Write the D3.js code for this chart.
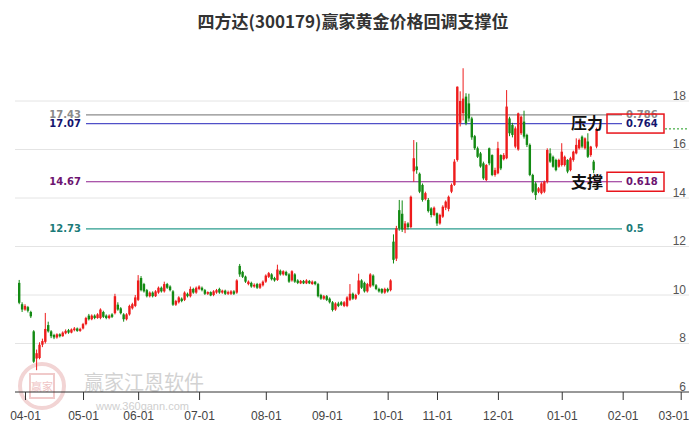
<!DOCTYPE html>
<html><head><meta charset="utf-8">
<script src="https://cdn.jsdelivr.net/npm/d3@7/dist/d3.min.js"></script>
<style>body{margin:0;background:#fff}svg{display:block}</style>
</head><body>
<svg id="chart" width="689" height="427"></svg>
<script>
// [open, high, low, close] per trading day
const candles = [
[10.50,10.62,9.62,9.68],[9.62,9.70,9.30,9.40],[9.40,9.62,9.35,9.55],[9.50,9.55,9.28,9.35],[9.30,9.35,9.05,9.12],
[8.50,8.55,7.20,7.25],[7.38,7.75,6.90,7.60],[7.40,8.05,7.35,7.95],[7.95,8.20,7.85,8.10],[8.07,9.26,8.00,8.60],
[8.76,8.90,8.45,8.50],[8.50,8.55,8.22,8.30],[8.35,8.40,8.18,8.25],[8.25,8.42,8.20,8.38],[8.38,8.42,8.25,8.30],
[8.30,8.50,8.28,8.45],[8.42,8.58,8.38,8.52],[8.55,8.60,8.40,8.45],[8.45,8.62,8.42,8.58],[8.55,8.68,8.50,8.62],
[8.62,8.66,8.48,8.52],[8.52,8.65,8.48,8.60],[8.62,8.85,8.58,8.80],[8.80,9.10,8.75,9.05],[9.15,9.22,8.95,9.00],
[9.00,9.20,8.96,9.15],[9.15,9.20,9.00,9.05],[9.05,9.25,9.02,9.20],[9.05,9.45,9.00,9.40],[9.30,9.35,9.05,9.10],
[9.15,9.20,9.00,9.05],[9.05,9.20,9.00,9.15],[9.20,9.25,9.05,9.10],[9.25,10.05,9.20,9.95],[9.60,9.70,9.35,9.40],
[9.45,9.50,9.20,9.25],[9.20,9.25,8.90,9.00],[9.00,9.25,8.95,9.20],[9.20,9.60,9.15,9.55],[9.45,9.68,9.40,9.62],
[9.55,10.00,9.50,9.90],[9.80,10.82,9.75,10.60],[10.70,10.78,10.15,10.20],[10.45,10.50,10.10,10.15],[10.20,10.25,9.90,9.95],
[9.95,10.15,9.90,10.10],[10.10,10.15,9.90,9.95],[9.95,10.20,9.92,10.15],[10.10,10.35,10.05,10.30],[10.30,10.35,10.10,10.15],
[10.15,10.55,10.10,10.45],[10.45,10.50,10.25,10.30],[10.35,10.40,10.15,10.20],[10.15,10.20,9.55,9.60],[9.60,9.80,9.55,9.75],
[9.70,9.95,9.65,9.90],[9.85,9.90,9.70,9.75],[9.80,10.15,9.75,10.10],[10.05,10.10,9.90,9.95],[9.95,10.35,9.90,10.25],
[10.25,10.30,10.05,10.10],[10.10,10.35,10.05,10.30],[10.25,10.40,10.20,10.35],[10.30,10.35,10.15,10.20],[10.20,10.25,10.00,10.05],
[10.05,10.15,10.00,10.12],[10.12,10.15,9.95,9.98],[10.00,10.20,9.95,10.15],[10.10,10.25,10.05,10.20],[10.25,10.30,10.05,10.10],
[10.10,10.22,10.05,10.18],[10.18,10.22,10.00,10.05],[10.05,10.18,10.00,10.12],[10.05,10.20,10.00,10.15],[10.15,10.20,10.00,10.05],
[10.10,10.65,10.05,10.60],[11.20,11.28,10.75,10.85],[10.95,11.00,10.70,10.75],[10.76,10.80,10.50,10.55],[10.45,10.60,10.40,10.55],
[10.50,10.55,10.30,10.35],[10.35,10.48,10.30,10.42],[10.45,10.50,10.25,10.30],[10.30,10.50,10.25,10.45],[10.40,10.60,10.35,10.55],
[10.55,10.85,10.50,10.80],[10.75,10.95,10.70,10.90],[10.85,10.90,10.60,10.65],[10.70,10.75,10.55,10.60],[10.62,11.25,10.58,11.05],
[11.00,11.05,10.80,10.85],[10.85,11.02,10.80,10.98],[10.95,11.00,10.78,10.82],[10.85,10.90,10.50,10.55],[10.60,11.02,10.55,10.98],
[10.85,10.90,10.50,10.55],[10.60,10.65,10.45,10.50],[10.48,10.62,10.45,10.58],[10.58,10.62,10.45,10.48],[10.48,10.65,10.45,10.60],
[10.58,10.62,10.45,10.48],[10.45,10.60,10.42,10.55],[10.55,10.58,10.40,10.45],[10.45,10.50,9.90,9.95],[10.00,10.05,9.80,9.85],
[9.85,10.00,9.80,9.95],[9.95,10.00,9.75,9.80],[9.85,9.90,9.65,9.70],[9.70,9.75,9.32,9.38],[9.40,9.70,9.35,9.65],
[9.65,9.72,9.50,9.55],[9.70,9.75,9.55,9.60],[9.55,9.75,9.50,9.70],[9.55,9.95,9.50,9.90],[9.80,10.45,9.75,10.05],
[10.05,10.10,9.80,9.85],[9.85,10.05,9.80,10.00],[10.05,10.88,10.00,10.60],[10.60,10.65,10.25,10.30],[10.50,10.55,10.10,10.15],
[10.15,10.50,10.10,10.45],[10.35,10.90,10.30,10.85],[10.80,10.85,10.35,10.40],[10.40,10.45,10.20,10.25],[10.25,10.30,10.10,10.15],
[10.25,10.28,10.05,10.10],[10.10,10.30,10.05,10.25],[10.25,10.30,10.10,10.15],[10.20,10.65,10.15,10.60],[12.20,12.50,11.30,11.45],
[11.50,12.85,11.40,12.75],[13.50,13.92,12.65,12.75],[13.35,13.90,12.60,12.70],[12.70,13.05,12.55,12.95],[12.95,13.00,12.70,12.80],
[12.80,14.10,12.75,14.05],[15.10,16.39,14.67,15.64],[15.30,16.30,15.00,15.15],[15.00,15.05,14.20,14.26],[14.54,14.60,13.85,13.92],
[13.95,14.26,13.90,14.20],[13.92,14.00,13.40,13.46],[13.57,13.62,13.20,13.30],[13.30,13.65,13.25,13.60],[13.37,13.40,12.85,12.95],
[12.95,13.35,12.90,13.30],[13.23,13.70,13.18,13.64],[13.60,13.90,13.50,13.85],[13.55,14.10,13.45,14.05],[14.26,14.60,14.20,14.54],
[14.54,15.60,14.50,15.50],[15.57,18.60,15.50,18.59],[17.10,18.40,16.95,18.00],[17.50,19.35,17.20,18.10],[18.18,18.32,17.00,17.08],
[17.90,18.30,17.15,17.28],[17.28,17.35,16.40,16.50],[16.55,16.60,15.98,16.05],[16.05,16.12,15.65,15.70],[15.84,15.90,15.25,15.30],
[15.43,15.50,14.75,14.81],[14.74,15.40,14.70,15.36],[16.05,16.08,15.35,15.43],[15.77,15.80,14.90,14.95],[14.95,15.25,14.88,15.15],
[15.02,16.32,14.98,16.05],[15.77,15.80,15.15,15.22],[15.60,15.85,15.55,15.77],[15.64,18.45,15.60,17.77],[17.28,17.35,16.55,16.67],
[17.01,17.10,16.50,16.60],[16.12,16.95,16.05,16.87],[16.00,17.52,15.95,17.49],[16.67,17.40,16.60,17.35],[17.15,17.60,16.45,16.53],
[16.60,16.65,16.10,16.19],[16.19,16.25,14.90,14.95],[14.95,15.00,14.20,14.26],[14.60,14.67,13.92,14.12],[14.26,14.45,14.20,14.40],
[14.20,14.65,14.15,14.60],[14.26,14.72,14.20,14.67],[14.67,16.05,14.60,15.98],[15.84,16.05,15.45,15.50],[15.70,15.75,15.25,15.29],
[15.57,15.62,15.10,15.15],[15.29,15.62,15.25,15.57],[15.36,16.26,15.30,15.91],[15.36,15.75,15.30,15.70],[15.57,15.60,15.02,15.09],
[15.15,15.70,15.10,15.64],[15.57,15.95,15.50,15.91],[15.84,16.46,15.80,16.19],[16.05,16.45,16.00,16.39],[16.53,16.58,16.05,16.12],
[16.05,16.50,16.00,16.46],[16.33,16.67,15.65,15.70],[15.77,16.15,15.70,16.12],[15.50,15.57,15.02,15.15],[16.12,16.90,16.05,16.85]
];
const tickIdx = [2,22,41,62,85,106,127,144,165,187,208,228];
const tickLabels = ["04-01","05-01","06-01","07-01","08-01","09-01","10-01","11-01","12-01","01-01","02-01","03-01"];
const yTicks = [6,8,10,12,14,16,18];
const levelValues = [17.43,17.07,14.67,12.73];
const levelRatios = ["0.786","0.764","0.618","0.5"];
const levelLineColors = ["#8c8c8c","#5050c8","#8e1f8e","#2b9c8e"];
const levelTextColors = ["#8a8a8a","#14146e","#6c1470","#1b7b78"];
const boxedLevels = [1,2];
const boxTexts = ["压力","支撑"];
const title = "四方达(300179)赢家黄金价格回调支撑位";

const svg = d3.select("#chart");
const x = d3.scaleLinear().domain([0,228]).range([19.2,680.7]);
const y = d3.scaleLinear().domain([6,18]).range([392,101]);

// watermark
const wm = svg.append("g");
wm.append("circle").attr("cx",42).attr("cy",386).attr("r",22).attr("fill","none").attr("stroke","#f2d4d4").attr("stroke-width",4);
wm.append("rect").attr("x",30).attr("y",374).attr("width",24).attr("height",24).attr("fill","none").attr("stroke","#f0caca").attr("stroke-width",2);
wm.append("text").attr("x",42).attr("y",391).attr("text-anchor","middle").attr("font-size",11).attr("fill","#efc4c4")
  .attr("font-family","Noto Sans CJK SC").text("赢家");
wm.append("text").attr("x",84).attr("y",390).attr("font-size",20).attr("fill","#d2d2d2")
  .attr("font-family","Noto Sans CJK SC").text("赢家江恩软件");
wm.append("text").attr("x",96).attr("y",410).attr("font-size",11).attr("fill","#cfcfcf")
  .attr("font-family","Liberation Sans, Arial, sans-serif").text("www.360gann.com");

// title
svg.append("text").attr("x",353).attr("y",28).attr("text-anchor","middle")
  .attr("font-family","Noto Sans CJK SC").attr("font-weight","bold").attr("font-size",17).attr("fill","#333")
  .text(title);

// grid lines
svg.append("g").selectAll("line").data(yTicks.filter(v=>v>6)).join("line")
  .attr("x1",15).attr("x2",689).attr("y1",d=>y(d)).attr("y2",d=>y(d))
  .attr("stroke","#e4e4e4").attr("stroke-width",1);

// y labels
const yAxis = d3.axisLeft(y).tickValues(yTicks).tickSize(0).tickPadding(0);
const ya = svg.append("g").attr("transform","translate(686,0)").call(yAxis);
ya.select(".domain").remove();
ya.selectAll("text").attr("dy","-0.15em").attr("font-family","Liberation Sans, Arial, sans-serif")
  .attr("font-size",12).attr("fill","#555");

// x axis
const xAxis = d3.axisBottom(x).tickValues(tickIdx).tickFormat((d,i)=>tickLabels[i]).tickSize(8).tickPadding(11);
const xa = svg.append("g").attr("transform","translate(0,392)").call(xAxis);
xa.select(".domain").remove();
xa.append("line").attr("x1",15).attr("x2",689).attr("y1",0).attr("y2",0).attr("stroke","#333");
xa.selectAll(".tick line").attr("stroke","#333");
xa.selectAll("text").attr("font-family","Liberation Sans, Arial, sans-serif").attr("font-size",12).attr("fill","#444");
xa.selectAll(".tick").filter((d,i)=>i===tickIdx.length-1).select("text")
  .attr("text-anchor","end").attr("x",8);

// level lines
const lv = svg.append("g");
levelValues.forEach((v,i)=>{
  lv.append("line").attr("x1",86).attr("x2",622).attr("y1",y(v)).attr("y2",y(v))
    .attr("stroke",levelLineColors[i]).attr("stroke-width",1.2);
  lv.append("text").attr("x",81).attr("y",y(v)).attr("dy","0.35em").attr("text-anchor","end")
    .attr("font-family","DejaVu Sans").attr("font-weight","bold").attr("font-size",10)
    .attr("fill",levelTextColors[i]).text(v.toFixed(2));
  lv.append("text").attr("x",626).attr("y",y(v)).attr("dy","0.35em")
    .attr("font-family","DejaVu Sans").attr("font-weight","bold").attr("font-size",10)
    .attr("fill",levelTextColors[i]).text(levelRatios[i]);
});

// candles
const cg = svg.append("g");
const bw = 2.4;
candles.forEach((c,i)=>{
  const [o,h,l,cl] = c;
  const col = cl >= o ? "#ee1c1c" : "#138a13";
  const cx = x(i);
  cg.append("line").attr("x1",cx).attr("x2",cx).attr("y1",y(h)).attr("y2",y(l)).attr("stroke",col).attr("stroke-width",1);
  const top = y(Math.max(o,cl)), bot = y(Math.min(o,cl));
  cg.append("rect").attr("x",cx-bw/2).attr("y",top).attr("width",bw).attr("height",Math.max(1,bot-top)).attr("fill",col);
});

// boxes around key ratios + labels
boxedLevels.forEach((li,k)=>{
  const yy = y(levelValues[li]);
  svg.append("rect").attr("x",607).attr("y",yy-9.5).attr("width",57).attr("height",19)
    .attr("fill","none").attr("stroke","#e8141b").attr("stroke-width",1.5);
  svg.append("text").attr("x",603).attr("y",yy).attr("dy","0.36em").attr("text-anchor","end")
    .attr("font-family","Noto Sans CJK SC").attr("font-weight","bold").attr("font-size",16).attr("fill","#111")
    .text(boxTexts[k]);
});

// last close dashed line
const last = candles[candles.length-1][3];
svg.append("line").attr("x1",665).attr("x2",689).attr("y1",y(last)).attr("y2",y(last))
  .attr("stroke","#1a9a1a").attr("stroke-width",1).attr("stroke-dasharray","2,2");
</script>
</body></html>
